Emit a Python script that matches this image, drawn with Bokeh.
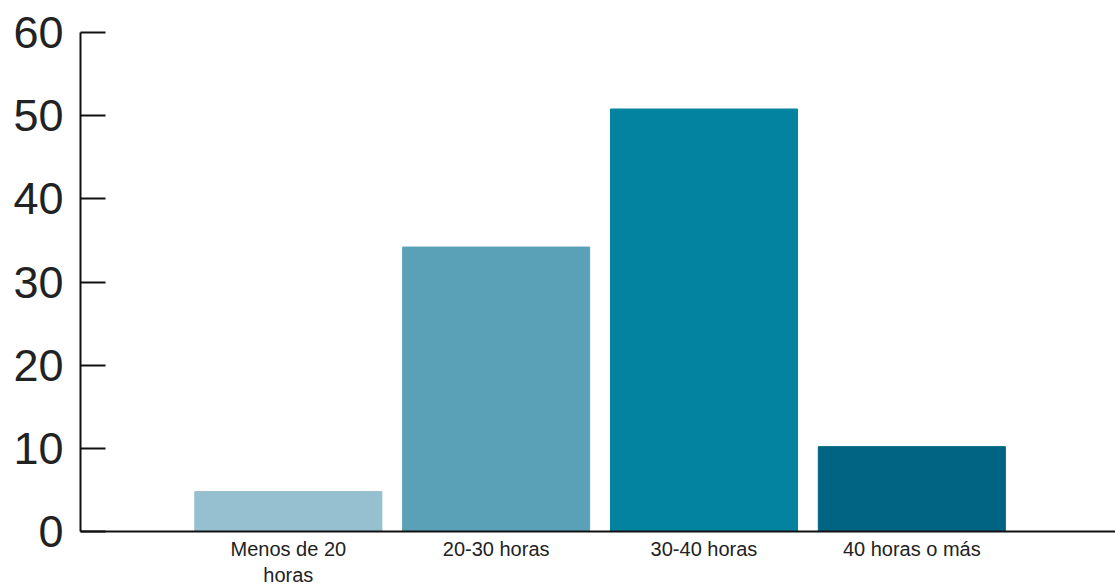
from bokeh.plotting import figure
from bokeh.models import FixedTicker, Range1d, ColumnDataSource
from bokeh.embed import file_html
from bokeh.resources import INLINE

categories = ["Menos de 20\nhoras", "20-30 horas", "30-40 horas", "40 horas o más"]
values = [4.8, 34.2, 50.8, 10.2]
colors = ["#96bfcf", "#5aa1b7", "#0383a0", "#006482"]
y_ticks = [0, 10, 20, 30, 40, 50, 60]

xpos = [i + 1 for i in range(len(categories))]
src = ColumnDataSource(dict(x=xpos, top=values, color=colors))

p = figure(width=1115, height=588, output_backend="svg", toolbar_location=None,
           x_range=Range1d(0, 4.98), y_range=Range1d(0, 60),
           min_border_left=80, min_border_right=0, min_border_top=32, min_border_bottom=56)
p.vbar(x="x", top="top", bottom=0, width=0.9, color="color", source=src)

p.xgrid.visible = False
p.ygrid.visible = False
p.outline_line_color = None

ya = p.yaxis[0]
ya.ticker = FixedTicker(ticks=y_ticks)
ya.major_label_text_font = "Liberation Sans"
ya.major_label_text_font_size = "45px"
ya.major_label_text_color = "#222222"
ya.major_tick_in = 25
ya.major_tick_out = 0
ya.minor_tick_line_color = None
ya.axis_line_width = 2
ya.major_tick_line_width = 2
ya.axis_line_color = "#111111"
ya.major_tick_line_color = "#111111"
ya.major_label_standoff = 17

xa = p.xaxis[0]
xa.ticker = FixedTicker(ticks=xpos)
xa.major_label_overrides = {x: c for x, c in zip(xpos, categories)}
xa.major_label_text_font = "Liberation Sans"
xa.major_label_text_font_size = "20px"
xa.major_label_text_color = "#222222"
xa.major_tick_in = 0
xa.major_tick_out = 0
xa.minor_tick_line_color = None
xa.axis_line_width = 2
xa.axis_line_color = "#111111"
xa.major_label_standoff = 6

open("out.html", "w").write(file_html(p, INLINE))
